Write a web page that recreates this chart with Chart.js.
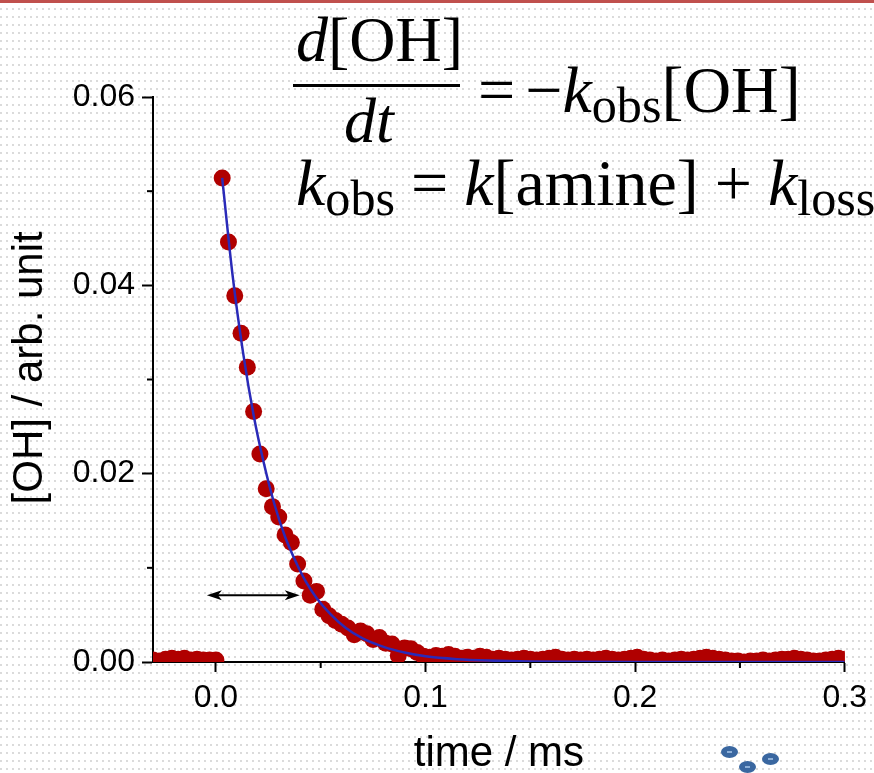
<!DOCTYPE html>
<html>
<head>
<meta charset="utf-8">
<script src="https://cdn.jsdelivr.net/npm/chart.js@4.4.1/dist/chart.umd.min.js"></script>
<style>
  html, body { margin: 0; padding: 0; width: 874px; height: 773px; overflow: hidden; background: #fff; }
  body {
    position: relative;
    background-image: radial-gradient(circle at 1px 1px, #dadada 0.7px, transparent 1.2px);
    background-size: 6px 8px;
  }
  #chart { position: absolute; left: 0; top: 0; }
  .topbar { position: absolute; left: 0; top: 0; width: 874px; height: 3px; background: #c0504d; }
  .eq { position: absolute; font-family: "Liberation Serif", serif; font-size: 66px; line-height: 1; color: #000; white-space: nowrap; }
  .eq i { font-style: italic; }
  .eq sub { font-size: 0.76em; vertical-align: baseline; position: relative; top: 0.2em; }
  .eq .op { display: inline-block; margin: 0 16px; }
  .bar { position: absolute; left: 293px; top: 84px; width: 167px; height: 3px; background: #000; }
  .dot { position: absolute; width: 17px; height: 12px; border-radius: 50%; background: #3a67a0; }
  .dot::after { content: ""; position: absolute; left: 6px; top: 5px; width: 5px; height: 2px; background: #8eb0d8; }
</style>
</head>
<body>
<canvas id="chart" width="874" height="773"></canvas>
<div class="topbar"></div>
<div class="eq" style="left:296px;top:8px;font-size:64px"><i>d</i>[OH]</div>
<div class="bar"></div>
<div class="eq" style="left:344px;top:89px;font-size:64px"><i>dt</i></div>
<div class="eq" style="left:462px;top:57px"><span class="op" style="margin-right:10px">=</span>−<i>k</i><sub>obs</sub>[OH]</div>
<div class="eq" style="left:296px;top:150px"><i>k</i><sub>obs</sub><span class="op">=</span><i>k</i>[amine]<span class="op">+</span><i>k</i><sub>loss</sub></div>
<div class="dot" style="left:721px;top:746px"></div>
<div class="dot" style="left:739px;top:761px"></div>
<div class="dot" style="left:762px;top:753px"></div>
<script>
// time axis in ms
const times = [
  -0.030, -0.027, -0.024, -0.021, -0.018, -0.015, -0.012, -0.009, -0.006, -0.003, 0.000,
  0.003, 0.006, 0.009, 0.012, 0.015, 0.018, 0.021, 0.024, 0.027, 0.030,
  0.033, 0.036, 0.039, 0.042, 0.045, 0.048, 0.051, 0.054, 0.057, 0.060,
  0.063, 0.066, 0.069, 0.072, 0.075, 0.078, 0.081, 0.084, 0.087, 0.090,
  0.093, 0.096, 0.099, 0.102, 0.105, 0.108, 0.111, 0.114, 0.117, 0.120,
  0.123, 0.126, 0.129, 0.132, 0.135, 0.138, 0.141, 0.144, 0.147, 0.150,
  0.153, 0.156, 0.159, 0.162, 0.165, 0.168, 0.171, 0.174, 0.177, 0.180,
  0.183, 0.186, 0.189, 0.192, 0.195, 0.198, 0.201, 0.204, 0.207, 0.210,
  0.213, 0.216, 0.219, 0.222, 0.225, 0.228, 0.231, 0.234, 0.237, 0.240,
  0.243, 0.246, 0.249, 0.252, 0.255, 0.258, 0.261, 0.264, 0.267, 0.270,
  0.273, 0.276, 0.279, 0.282, 0.285, 0.288, 0.291, 0.294, 0.297, 0.300
];
// measured [OH] signal
const ohSignal = [
  0.0002, 0.0001, 0.0003, 0.0004, 0.0003, 0.0004, 0.0002, 0.0003, 0.0002, 0.0002, 0.0002,
  0.0514, 0.0446, 0.0389, 0.0349, 0.0313, 0.0266, 0.0221, 0.0184, 0.0165, 0.0154,
  0.0135, 0.0127, 0.0104, 0.0086, 0.0071, 0.0075, 0.0056, 0.0049, 0.0044, 0.0040,
  0.0036, 0.0029, 0.0033, 0.0030, 0.0024, 0.0026, 0.0020, 0.0019, 0.0007, 0.0015,
  0.0014, 0.0010, 0.0006, 0.0005, 0.0007, 0.0006, 0.0008, 0.0006, 0.0004, 0.0005,
  0.0004, 0.0006, 0.0005, 0.0003, 0.0004, 0.0003, 0.0002, 0.0003, 0.0004, 0.0003,
  0.0002, 0.0003, 0.0004, 0.0005, 0.0003, 0.0002, 0.0003, 0.0002, 0.0003, 0.0002,
  0.0003, 0.0004, 0.0003, 0.0002, 0.0003, 0.0004, 0.0005, 0.0003, 0.0002, 0.0001,
  0.0002, 0.0001, 0.0002, 0.0003, 0.0002, 0.0003, 0.0004, 0.0005, 0.0004, 0.0003,
  0.0002, 0.0001, 0.0001, 0.0000, 0.0001, 0.0001, 0.0002, 0.0001, 0.0002, 0.0003,
  0.0003, 0.0004, 0.0003, 0.0002, 0.0001, 0.0001, 0.0002, 0.0003, 0.0004, 0.0003
];
// exponential fit
const fitTimes  = [0.003, 0.008, 0.013, 0.018, 0.023, 0.028, 0.033, 0.038, 0.043, 0.048, 0.055, 0.062, 0.070, 0.080, 0.090, 0.100, 0.115, 0.130, 0.150, 0.200, 0.300];
const fitValues = [0.0514, 0.0410, 0.0328, 0.0262, 0.0210, 0.0167, 0.0133, 0.0107, 0.0085, 0.0068, 0.0050, 0.0036, 0.0025, 0.0016, 0.0010, 0.0006, 0.0003, 0.00015, 0.00005, 0, 0];

const xTicks = [0, 0.1, 0.2, 0.3];
const xTickLabels = ['0.0', '0.1', '0.2', '0.3'];
const xMinorTicks = [0.05, 0.15, 0.25];
const yTicks = [0, 0.02, 0.04, 0.06];
const yTickLabels = ['0.00', '0.02', '0.04', '0.06'];
const yMinorTicks = [0.01, 0.03, 0.05];
// double arrow marking the decay interval
const arrowFrom = [-0.0043, 0.0071];
const arrowTo = [0.040, 0.0071];

const tickFont = { family: '"Liberation Sans", Arial, sans-serif', size: 32 };
const titleFont = { family: '"Liberation Sans", Arial, sans-serif', size: 42, lineHeight: 1 };

const extras = {
  id: 'extras',
  afterDraw(chart) {
    const { ctx, scales: { x, y } } = chart;
    ctx.save();
    ctx.strokeStyle = '#000';
    ctx.fillStyle = '#000';
    ctx.lineWidth = 2;
    xMinorTicks.forEach(v => {
      const px = x.getPixelForValue(v);
      ctx.beginPath(); ctx.moveTo(px, y.bottom); ctx.lineTo(px, y.bottom + 6); ctx.stroke();
    });
    yMinorTicks.forEach(v => {
      const py = y.getPixelForValue(v);
      ctx.beginPath(); ctx.moveTo(x.left, py); ctx.lineTo(x.left - 6, py); ctx.stroke();
    });
    const x1 = x.getPixelForValue(arrowFrom[0]), y1 = y.getPixelForValue(arrowFrom[1]);
    const x2 = x.getPixelForValue(arrowTo[0]), y2 = y.getPixelForValue(arrowTo[1]);
    ctx.beginPath(); ctx.moveTo(x1 + 8, y1); ctx.lineTo(x2 - 8, y2); ctx.stroke();
    [[x1, 1], [x2, -1]].forEach(([px, d]) => {
      ctx.beginPath();
      ctx.moveTo(px, y1);
      ctx.lineTo(px + d * 15, y1 - 5);
      ctx.lineTo(px + d * 11, y1);
      ctx.lineTo(px + d * 15, y1 + 5);
      ctx.closePath();
      ctx.fill();
    });
    ctx.restore();
  }
};

new Chart(document.getElementById('chart'), {
  type: 'scatter',
  data: {
    datasets: [
      {
        label: 'fit',
        data: fitTimes.map((t, i) => ({ x: t, y: fitValues[i] })),
        showLine: true,
        borderColor: '#2a2ab8',
        borderWidth: 2.5,
        pointRadius: 0,
        cubicInterpolationMode: 'monotone',
        clip: 0,
        order: 0
      },
      {
        label: '[OH]',
        data: times.map((t, i) => ({ x: t, y: ohSignal[i] })),
        backgroundColor: '#b00000',
        borderWidth: 0,
        pointRadius: 8.5,
        clip: 0,
        order: 1
      }
    ]
  },
  plugins: [extras],
  options: {
    responsive: false,
    animation: false,
    layout: { padding: { left: 0, right: 27, top: 97, bottom: 0 } },
    plugins: { legend: { display: false }, tooltip: { enabled: false } },
    scales: {
      x: {
        type: 'linear',
        min: -0.03,
        max: 0.3,
        afterFit: s => { s.height = 111; },
        afterBuildTicks: s => { s.ticks = xTicks.map(v => ({ value: v })); },
        border: { display: true, color: '#000', width: 2 },
        grid: { drawOnChartArea: false, drawTicks: true, tickLength: 10, tickWidth: 2, tickColor: '#000' },
        ticks: { font: tickFont, color: '#000', padding: 7, maxRotation: 0,
          callback: (v) => xTickLabels[xTicks.indexOf(v)] },
        title: { display: true, text: 'time / ms', font: titleFont, color: '#000', padding: { bottom: -2 } }
      },
      y: {
        type: 'linear',
        min: 0,
        max: 0.06,
        afterFit: s => { s.width = 153; },
        afterBuildTicks: s => { s.ticks = yTicks.map(v => ({ value: v })); },
        border: { display: true, color: '#000', width: 2 },
        grid: { drawOnChartArea: false, drawTicks: true, tickLength: 11, tickWidth: 2, tickColor: '#000' },
        ticks: { font: tickFont, color: '#000', padding: 7,
          callback: (v) => yTickLabels[yTicks.indexOf(v)] },
        title: { display: true, text: '  [OH] / arb. unit', font: titleFont, color: '#000', padding: { top: 9 } }
      }
    }
  }
});
</script>
</body>
</html>
